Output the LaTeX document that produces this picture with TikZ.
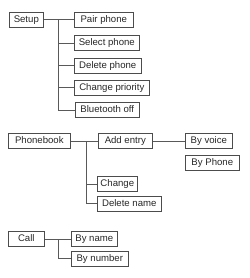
\documentclass[tikz,border=0pt]{standalone}
\usepackage{fontspec}
\setmainfont{Liberation Sans}
\usepackage{tikz}
\usetikzlibrary{positioning}
\tikzset{
    caixa/.style={draw=black!70, line width=0.6pt, text=black!85, font=\fontsize{9.6}{11}\selectfont,
        text height=7.1pt, text depth=2pt, inner ysep=2.8pt, inner xsep=2pt, anchor=west},
    ligacao/.style={draw=black!65, line width=0.6pt}
}

\begin{document}
\begin{tikzpicture}[x=1pt, y=-1pt]
    \useasboundingbox (0,0) rectangle (249,278);
    % Setup
    \node[caixa, minimum width=34pt] (setup) at (9,19.5) {Setup};
    \node[caixa, minimum width=59pt] (pair) at (74,19.5) {Pair phone};
    \node[caixa, minimum width=65pt] (select) at (74,43) {Select phone};
    \node[caixa, minimum width=67pt] (delete) at (74,65.5) {Delete phone};
    \node[caixa, minimum width=75pt] (priority) at (74,87.5) {Change priority};
    \node[caixa, minimum width=64pt] (bluetooth) at (75,110) {Bluetooth off};
    \coordinate (eixoA) at (58,19.5);
    \draw[ligacao] (setup) -- (pair);
    \draw[ligacao] (eixoA) |- (select.west);
    \draw[ligacao] (eixoA) |- (delete.west);
    \draw[ligacao] (eixoA) |- (priority.west);
    \draw[ligacao] (eixoA) |- (bluetooth.west);
    % Phonebook
    \node[caixa, minimum width=62pt] (phonebook) at (8,141) {Phonebook};
    \node[caixa, minimum width=54pt] (add) at (98,141) {Add entry};
    \node[caixa, minimum width=47pt] (voice) at (185,141) {By voice};
    \node[caixa, minimum width=54pt] (byphone) at (185,162.5) {By Phone};
    \node[caixa, minimum width=40pt] (change) at (97,184) {Change};
    \node[caixa, minimum width=64pt] (delname) at (97,203.5) {Delete name};
    \coordinate (eixoB) at (86,141);
    \draw[ligacao] (phonebook) -- (add);
    \draw[ligacao] (add) -- (voice);
    \draw[ligacao] (eixoB) |- (change.west);
    \draw[ligacao] (eixoB) |- (delname.west);
    % Call
    \node[caixa, minimum width=36pt] (call) at (8,239) {Call};
    \node[caixa, minimum width=46pt] (byname) at (71,239) {By name};
    \node[caixa, minimum width=57pt] (bynumber) at (71,258.5) {By number};
    \coordinate (eixoC) at (58,239);
    \draw[ligacao] (call) -- (byname);
    \draw[ligacao] (eixoC) |- (bynumber.west);
\end{tikzpicture}
\end{document}
